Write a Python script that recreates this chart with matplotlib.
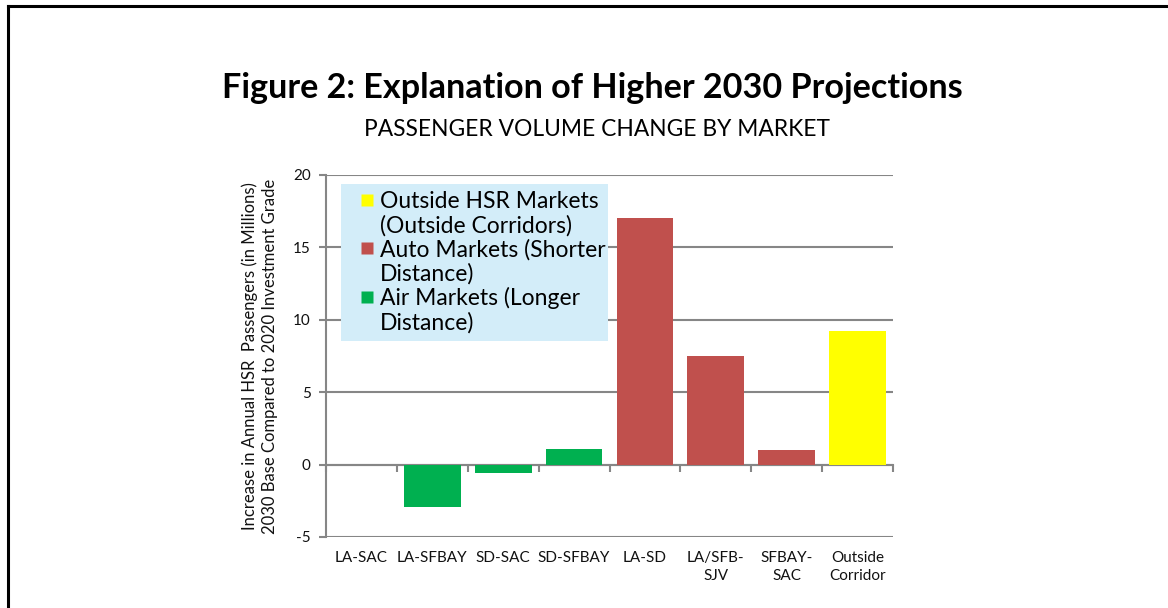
import matplotlib
matplotlib.use("Agg")
import matplotlib.pyplot as plt
from matplotlib.patches import Rectangle
from matplotlib.lines import Line2D
import numpy as np

plt.rcParams['font.family'] = ['Lato', 'DejaVu Sans']

categories = ["LA-SAC", "LA-SFBAY", "SD-SAC", "SD-SFBAY", "LA-SD",
              "LA/SFB-\nSJV", "SFBAY-\nSAC", "Outside\nCorridor"]
values = [0.0, -2.9, -0.6, 1.1, 17.0, 7.5, 1.0, 9.2]
groups = ["air", "air", "air", "air", "auto", "auto", "auto", "outside"]
group_colors = {"outside": "#FFFF00", "auto": "#C0504D", "air": "#00B050"}
legend_order = ["outside", "auto", "air"]
legend_labels = {"outside": "Outside HSR Markets\n(Outside Corridors)",
                 "auto": "Auto Markets (Shorter\nDistance)",
                 "air": "Air Markets (Longer\nDistance)"}
yticks = [-5, 0, 5, 10, 15, 20]

title = "Figure 2: Explanation of Higher 2030 Projections"
subtitle = "PASSENGER VOLUME CHANGE BY MARKET"
ylabel = "Increase in Annual HSR  Passengers (in Millions)\n2030 Base Compared to 2020 Investment Grade"

W, H = 1168, 608
fig = plt.figure(figsize=(W / 100, H / 100), dpi=100)

# outer frame (left and top edges)
fig.add_artist(Line2D([8 / W, 8 / W], [0, 1 - 6 / H], color="black", lw=2.2,
                      transform=fig.transFigure))
fig.add_artist(Line2D([8 / W, 1], [1 - 6 / H, 1 - 6 / H], color="black", lw=2.2,
                      transform=fig.transFigure))

fig.text(592 / W, 1 - 88 / H, title, ha="center", va="center",
         fontsize=24.6, fontweight="bold")
fig.text(597 / W, 1 - 130 / H, subtitle, ha="center", va="center",
         fontsize=16.4)

ax_l, ax_b, ax_w, ax_h = 326, 71, 567, 362
ax = fig.add_axes([ax_l / W, ax_b / H, ax_w / W, ax_h / H])
x = np.arange(len(categories))
colors = [group_colors[g] for g in groups]
ax.bar(x, values, width=0.8, color=colors, zorder=3)

ax.set_xlim(-0.5, len(categories) - 0.5)
ax.set_ylim(-5, 20)
ax.set_yticks(yticks)
ax.set_yticklabels([str(v) for v in yticks], fontsize=11)
gray = "#868686"
ax.yaxis.grid(True, color=gray, lw=1.5, zorder=1)
ax.set_axisbelow(True)

for s in ["top", "right", "bottom"]:
    ax.spines[s].set_visible(False)
ax.spines["left"].set_color(gray)
ax.spines["left"].set_linewidth(1.5)
ax.tick_params(axis="y", direction="out", length=5, width=1.5, color=gray,
               pad=6, labelcolor="#111111")

ax.set_xticks(x)
ax.set_xticklabels(categories, fontsize=11, linespacing=1.35)
ax.tick_params(axis="x", length=0, pad=10, labelcolor="#111111")

# horizontal category axis at zero with boundary ticks
sec = ax.secondary_xaxis(5 / 25)
sec.set_xticks(np.arange(len(categories) + 1) - 0.5)
sec.set_xticklabels([])
sec.tick_params(axis="x", direction="out", length=5, width=1.5, color=gray)
sec.spines["bottom"].set_color(gray)
sec.spines["bottom"].set_linewidth(1.5)

ax.set_ylabel(ylabel, fontsize=12, linespacing=1.32, labelpad=11,
              color="#111111")

# legend: light-blue panel + entries (handle on first line of each label)
panel = Rectangle(((341 - ax_l) / ax_w, (608 - 341 - ax_b) / ax_h),
                  267 / ax_w, 157 / ax_h, transform=ax.transAxes,
                  facecolor="#D3EDF9", edgecolor="none", zorder=4)
ax.add_patch(panel)

handles, labels = [], []
for g in legend_order:
    lines = legend_labels[g].split("\n")
    handles.append(Line2D([], [], linestyle="none", marker="s",
                          markersize=8.6, markerfacecolor=group_colors[g],
                          markeredgecolor="none"))
    labels.append(lines[0])
    for extra in lines[1:]:
        handles.append(Line2D([], [], linestyle="none"))
        labels.append(extra)

fs_leg = 16.5
leg = ax.legend(handles, labels, loc="upper left",
                bbox_to_anchor=((357 - ax_l) / ax_w, (608 - 191 - ax_b) / ax_h),
                borderaxespad=0, borderpad=0, fontsize=fs_leg, frameon=False,
                handlelength=0.87, handletextpad=0.13, labelspacing=0.115)
leg.set_zorder(5)

fig.savefig("out.png", dpi=100)
